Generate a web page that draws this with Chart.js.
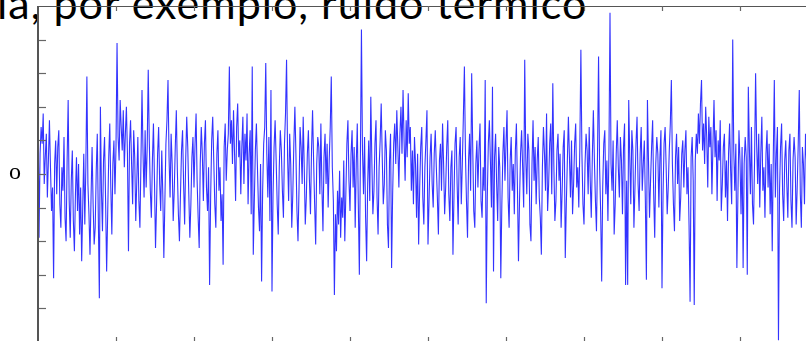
<!DOCTYPE html>
<html>
<head>
<meta charset="utf-8">
<script src="https://cdn.jsdelivr.net/npm/chart.js@4.4.1/dist/chart.umd.min.js"></script>
<style>
    html, body { margin: 0; padding: 0; background: #fff; overflow: hidden; width: 806px; height: 341px; }
    #title {
        position: absolute; left: -3px; top: -19px; white-space: nowrap;
        font: 43px Lato, sans-serif; line-height: 43px; letter-spacing: 1px; color: #000; z-index: 0;
    }
    #wrap { position: absolute; left: 0; top: 0; z-index: 1; }
</style>
</head>
<body>
<div id="title">ia, por exemplo, ruído térmico</div>
<div id="wrap"><canvas id="noiseChart" width="822" height="346"></canvas></div>
<script>
// ========== DATA ==========
// amostras do sinal de ruído (20 por linha)
const noiseValues = [
    2.3, -1.9, 0.6, 1.4, 0.9, 1.8, -0.3, 0.5, 1.2, -0.7, 0.4, 1.6, 0.2, -1.1, -0.4, -3.1, 0.3, 1.0, -0.6, 0.8,
    1.3, -0.9, -1.6, 0.2, -0.5, 1.1, -1.3, -2.0, 0.4, 2.2, -0.8, -1.9, -0.2, 0.7, -1.4, -2.3, -0.6, 0.5, -1.1, 0.3,
    -1.8, -0.4, -2.6, -1.0, 0.6, -1.5, 0.2, 2.9, -0.3, -1.2, -2.4, -0.7, 0.8, -0.9, -2.1, -1.6, 0.1, 1.2, -1.3, -3.7,
    2.0, -0.5, -1.7, 0.4, 1.1, -0.8, -2.9, -1.2, 0.5, 1.5, -0.4, -1.8, 0.3, 1.0, -0.6, 0.8, 3.9, 1.1, 0.4, 2.2,
    1.4, 0.7, 1.9, 0.2, 1.2, 2.0, 0.6, -2.3, 0.9, 1.6, 0.3, -0.9, 1.3, 0.5, -1.4, -0.2, 1.1, -0.8, -1.6, 0.4,
    2.5, 0.6, -0.7, 1.3, -0.4, 0.8, 3.1, 1.0, -0.5, -1.3, 0.4, 1.5, -0.2, -2.2, -0.9, 0.6, 1.4, -0.3, -1.1, 0.7,
    -0.6, -2.5, -0.8, 0.9, 1.6, 2.8, 0.5, -0.7, 1.2, 0.3, -1.4, -0.5, 0.8, 1.9, 0.1, -1.2, -2.0, -0.6, 0.7, 1.3,
    -0.3, -1.5, 0.4, 1.7, 0.8, -0.6, -1.9, -0.9, 0.5, 1.1, -0.4, 0.9, 1.8, -0.2, -1.3, -2.2, 0.3, 1.4, 0.6, -0.8,
    0.9, 1.6, -0.4, -1.1, 0.2, -3.3, -0.7, 1.0, 1.7, 0.4, -0.9, -1.6, 0.6, 1.3, -0.5, 0.2, -1.4, -0.6, -2.7, 0.8,
    1.5, -0.2, 0.7, 1.2, 3.2, 0.9, 1.6, 0.3, 1.9, 0.6, -0.8, 1.4, 2.1, 0.5, 1.0, -0.6, 0.8, 1.7, -0.3, 1.2,
    0.4, 1.8, -0.9, 0.6, 1.3, -1.2, 3.2, -2.4, -0.8, 0.7, 1.5, 0.2, -1.0, -1.7, 0.3, -3.2, -0.5, 0.9, 1.4, 3.3,
    0.6, -0.7, 1.1, -1.4, 2.5, -3.5, -0.6, 0.8, 1.6, 0.4, -0.9, -1.8, 0.2, 1.3, 0.7, -0.5, -1.3, 0.9, 1.8, 3.4,
    0.5, -0.8, 1.2, 0.3, -1.6, -0.6, 0.9, 2.0, 0.6, -1.1, -2.0, -0.4, 1.4, 0.8, -0.3, 1.7, 0.2, -1.5, -0.7, 0.6,
    1.3, -0.2, -1.2, 0.7, 1.9, 0.4, -0.9, -2.1, 0.3, 1.1, 0.8, -0.6, 1.5, -0.4, -1.7, 0.5, 1.2, -0.3, 0.9, -1.0,
    0.4, 1.4, 2.9, 0.2, -0.8, -3.6, -1.2, -2.3, -0.5, -1.5, 0.1, -1.9, -0.7, -1.3, 0.4, -2.0, -0.6, 0.9, 1.6, -0.2,
    -1.1, 0.6, 1.3, -0.4, 0.8, -1.6, 0.3, 1.5, -0.9, -3.0, 0.5, 4.3, 0.7, -0.6, 1.1, -1.3, -2.6, -0.3, 1.0, -0.8,
    2.3, 0.4, -1.2, -0.5, 0.9, 1.6, -0.7, -1.8, 0.2, 1.0, 2.1, 0.5, -0.9, -0.3, 1.3, 0.7, -1.5, -2.2, 0.4, 1.2,
    -2.8, -0.6, 0.9, 1.5, 0.3, 1.9, 0.8, -0.4, 1.2, 2.0, 0.6, 2.5, 1.0, -0.2, 1.6, 0.5, 2.4, 0.9, 1.4, -0.5,
    0.7, -0.9, 1.1, 0.3, -1.3, 0.6, -2.1, -0.4, 0.8, 1.4, -0.7, -1.5, 0.2, 1.0, 1.9, -2.1, -0.8, 0.5, 1.2, -0.3,
    -1.0, 0.6, 1.3, 0.2, -0.7, -1.8, 0.4, 0.9, -0.5, 1.5, 0.3, -1.2, -0.4, 0.8, 1.6, -0.6, -1.4, 0.2, 0.7, -2.4,
    -0.6, 0.9, 1.4, -0.3, -1.5, 0.5, 1.1, -0.9, 0.3, 1.7, 3.2, 0.6, -0.8, -1.9, 0.4, 1.2, -0.5, 3.0, 0.8, -1.1,
    -1.6, 0.3, 1.0, -0.4, 0.7, 1.5, -0.8, -1.3, 0.2, -0.5, 2.8, -3.85, -0.7, 0.9, 1.6, 0.4, -1.0, 2.6, -2.9, 0.5,
    1.2, -0.3, -1.4, 0.8, 0.2, -3.1, -0.9, 0.6, 1.4, -0.2, 0.9, 1.9, -0.7, -1.6, 0.4, 1.1, -0.5, 0.3, -1.2, 0.7,
    1.5, -0.4, -2.6, -0.8, 0.6, 1.3, 0.2, -1.0, 3.4, 0.5, -0.6, 1.2, 0.7, -1.5, -2.0, 0.3, 1.6, -0.2, 0.8, -0.9,
    0.4, 1.1, -0.7, -1.3, -2.4, 0.2, 1.4, 0.6, -0.5, 1.8, -1.1, -0.3, 0.9, 1.5, -0.6, 2.7, 0.3, -1.4, -0.8, 0.7,
    1.2, -0.2, 0.6, -1.6, -0.5, 0.8, 1.3, -2.5, -0.9, 0.4, 1.7, 0.5, -0.7, 1.0, -1.2, -0.3, 0.9, 1.5, -0.4, 0.2,
    -1.0, 0.8, 3.7, 0.6, -0.9, -1.5, 0.3, 1.2, 0.7, -0.6, 1.4, -0.2, -1.3, 0.5, 1.9, 0.4, -0.8, -1.7, 0.6, 3.5,
    0.2, -1.1, -3.2, -0.4, 0.9, 1.3, -0.6, 0.4, -1.4, 0.7, 4.8, 0.3, -0.5, 1.0, -1.8, -0.9, 0.6, 1.6, 0.2, -0.7,
    1.1, 0.4, -1.2, 0.8, 1.5, -3.3, -0.2, -3.3, 2.2, 0.5, -0.9, 1.3, 0.7, -1.6, -0.4, 0.9, 1.7, -0.3, -1.1, 0.6,
    1.4, -0.5, 0.3, 1.0, -0.8, -3.15, 2.2, 0.4, -1.3, -0.2, 0.8, 1.6, -0.6, -1.9, 0.3, 1.1, 0.6, -1.0, 0.5, 1.3,
    -3.4, -0.6, 0.9, 1.4, 0.2, -1.2, -0.4, 0.7, 1.5, 2.8, 0.3, -0.9, -1.7, 0.5, 1.2, -0.3, 0.8, -1.4, -0.7, 0.6,
    1.0, -0.4, 0.7, 1.3, -0.6, 0.2, -1.5, -3.8, 0.5, 1.1, -0.2, -3.9, 0.4, 1.2, 0.6, 1.8, 0.9, 2.1, 2.8, 0.7,
    1.5, 0.3, 2.0, 1.1, -0.4, 1.7, 0.8, 1.4, -0.6, 0.9, 2.2, 0.5, 1.3, -0.8, 1.0, 0.4, 1.6, -1.1, -0.3, 0.8,
    1.2, -0.7, 0.4, -1.4, 0.6, 1.5, 0.1, -0.9, 4.0, 0.7, -0.5, 0.9, -2.8, -0.6, 1.3, 0.4, -1.2, 0.8, -2.8, 0.3,
    1.1, 0.5, -3.0, 2.6, 0.8, -0.6, 1.4, -0.9, -1.5, 0.4, 3.0, 0.9, -0.3, 1.2, -1.0, 0.6, 1.7, -0.5, 0.2, -1.3,
    0.6, 1.3, -0.4, 0.9, -1.2, 0.3, -2.3, 0.5, 2.8, -0.7, 0.6, 1.4, -4.95, -0.5, 0.8, 1.5, -0.6, -1.4, 0.4, 1.0,
    -0.3, -1.3, 0.7, 1.2, -0.8, -1.6, 0.4, 1.1, 0.5, -1.5, -0.4, 0.9, 2.5, -0.6, -1.6, 0.8, 0.3, -0.9, 1.2, 0.4,
    -0.7, 1.1, 0.5, -1.2, 0.8, -0.3, 1.4, -0.9, 0.6, 0.2, -1.1, 0.9, -0.4, 1.3, 0.3, -0.8, 0.7, -0.5, 1.0, 0.2
];

// marcas dos eixos
const xTickValues = [75, 150, 225, 300, 375, 450, 525, 600, 675];
const yTickValues = [-4, -3, -2, -1, 0, 1, 2, 3, 4];
const yTickLabels = { 0: 'o' };

// ========== FRAME PLUGIN ==========
// eixos com marcas para dentro, como no gráfico original
const framePlugin = {
    id: 'frame',
    afterDatasetsDraw(chart) {
        const { ctx, chartArea, scales } = chart;
        const { left, top, bottom } = chartArea;
        ctx.save();

        // topo
        ctx.strokeStyle = '#555';
        ctx.lineWidth = 1;
        ctx.beginPath();
        ctx.moveTo(left, top + 0.5);
        ctx.lineTo(chart.width, top + 0.5);
        ctx.stroke();

        // marcas do eixo x (em cima e em baixo)
        ctx.strokeStyle = '#666';
        ctx.lineWidth = 1.2;
        xTickValues.forEach(v => {
            const x = Math.round(scales.x.getPixelForValue(v)) + 0.5;
            ctx.beginPath();
            ctx.moveTo(x, top);
            ctx.lineTo(x, top + 5);
            ctx.moveTo(x, bottom);
            ctx.lineTo(x, bottom - 5);
            ctx.stroke();
        });

        // marcas do eixo y
        yTickValues.forEach(v => {
            const y = Math.round(scales.y.getPixelForValue(v)) + 0.5;
            ctx.beginPath();
            ctx.moveTo(left, y);
            ctx.lineTo(left + 8, y);
            ctx.stroke();
        });

        // eixo esquerdo
        ctx.strokeStyle = '#555';
        ctx.lineWidth = 2;
        ctx.beginPath();
        ctx.moveTo(left, top);
        ctx.lineTo(left, chart.height);
        ctx.stroke();

        // rótulo do zero
        ctx.fillStyle = '#000';
        ctx.font = '24px "Liberation Serif", serif';
        ctx.textAlign = 'center';
        ctx.textBaseline = 'middle';
        Object.keys(yTickLabels).forEach(k => {
            ctx.fillText(yTickLabels[k], 15, scales.y.getPixelForValue(Number(k)) - 1);
        });

        ctx.restore();
    }
};

// ========== CHART ==========
const ctx = document.getElementById('noiseChart').getContext('2d');
new Chart(ctx, {
    type: 'line',
    data: {
        datasets: [{
            data: noiseValues.map((v, i) => ({ x: i, y: v })),
            borderColor: 'rgba(0, 0, 255, 0.8)',
            borderWidth: 1.1,
            pointRadius: 0,
            tension: 0,
            fill: false
        }]
    },
    options: {
        responsive: false,
        animation: false,
        devicePixelRatio: 1,
        layout: { padding: { left: 38, top: 6, right: 4, bottom: 4 } },
        plugins: { legend: { display: false }, tooltip: { enabled: false } },
        scales: {
            x: { type: 'linear', display: false, min: 0, max: 750 },
            y: { type: 'linear', display: false, min: -5, max: 5 }
        }
    },
    plugins: [framePlugin]
});
</script>
</body>
</html>
